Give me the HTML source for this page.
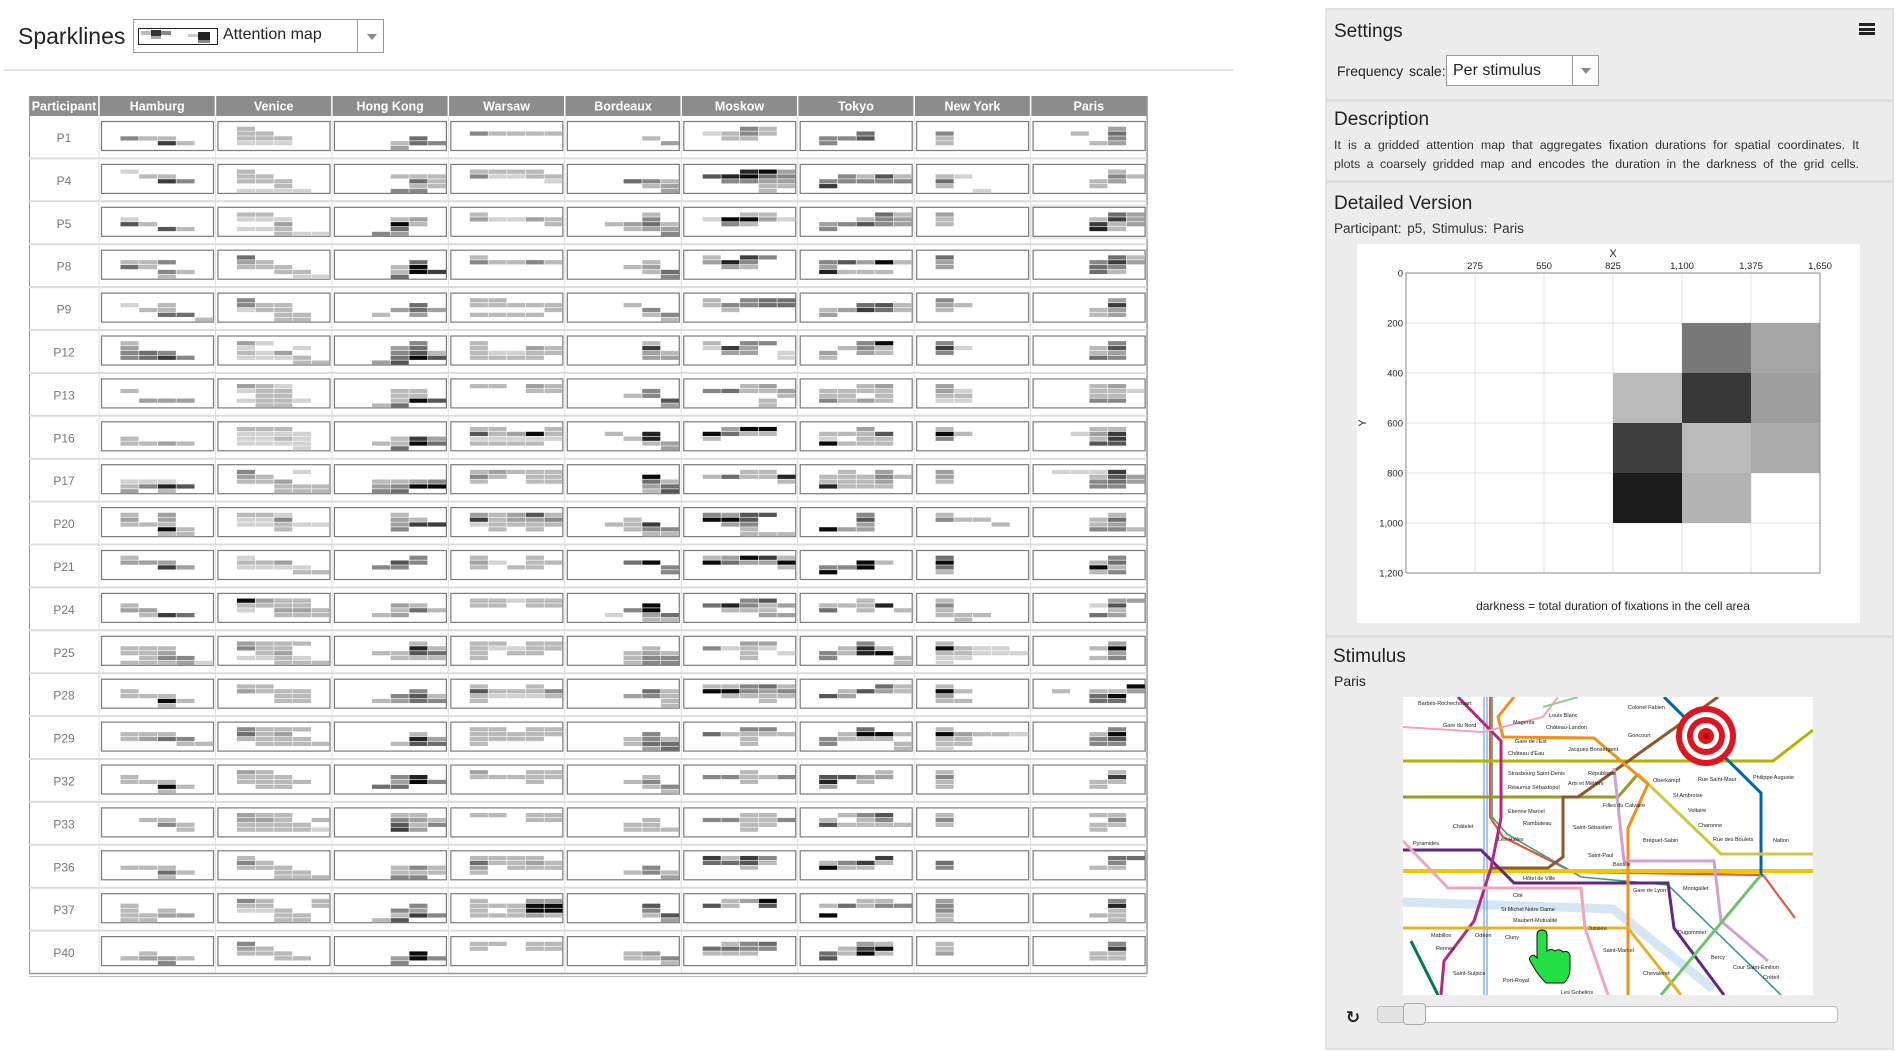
<!DOCTYPE html>
<html><head><meta charset="utf-8">
<style>
*{margin:0;padding:0;box-sizing:border-box}
body{width:1897px;height:1052px;background:#fff;font-family:"Liberation Sans","DejaVu Sans",sans-serif;position:relative;overflow:hidden;color:#222}
.abs{position:absolute}
#panel{left:1325px;top:8px;width:569px;height:1042px;background:#ececec;border:2px solid #e0e0e0}
.sep{position:absolute;left:1327px;width:565px;height:3px;background:#dedede}
.h{font-size:19px;color:#222}
</style></head><body>
<div class="abs" style="left:18px;top:23px;font-size:23px;">Sparklines</div>
<div class="abs" style="left:133px;top:19px;width:251px;height:34px;border:1px solid #999;background:#fff">
  <svg class="abs" style="left:4px;top:8px" width="80" height="17">
    <rect x="0.5" y="0.5" width="79" height="16" fill="#fff" stroke="#222"/>
    <rect x="3" y="3" width="10" height="4" fill="#bbb"/><rect x="13" y="2" width="10" height="6" fill="#333"/><rect x="23" y="3" width="10" height="4" fill="#888"/><rect x="13" y="8" width="10" height="3" fill="#aaa"/>
    <rect x="50" y="6" width="10" height="3" fill="#ccc"/><rect x="60" y="4" width="12" height="8" fill="#222"/><rect x="60" y="12" width="12" height="3" fill="#888"/>
  </svg>
  <span class="abs" style="left:89px;top:6px;font-size:16px">Attention map</span>
  <div class="abs" style="left:223px;top:0;width:1px;height:32px;background:#999"></div>
  <div class="abs" style="left:233px;top:14px;width:0;height:0;border-left:5px solid transparent;border-right:5px solid transparent;border-top:6px solid #888"></div>
</div>
<div class="abs" style="left:4px;top:69px;width:1229px;height:2px;background:#e2e2e2"></div>

<svg id="table" class="abs" style="left:0;top:0" width="1160" height="990"></svg>

<div id="panel" class="abs"></div>
<div class="abs h" style="left:1334px;top:21px">Settings</div>
<div class="abs" style="left:1859px;top:23px;width:16px;height:12px;border-top:3px solid #222;border-bottom:3px solid #222"><div style="margin-top:2px;height:3px;background:#222"></div></div>
<div class="abs" style="left:1337px;top:63px;font-size:14px;word-spacing:2px">Frequency scale:</div>
<div class="abs" style="left:1446px;top:55px;width:153px;height:31px;border:1px solid #999;background:#fff">
  <span class="abs" style="left:6px;top:6px;font-size:16px">Per stimulus</span>
  <div class="abs" style="left:125px;top:0;width:1px;height:29px;background:#999"></div>
  <div class="abs" style="left:134px;top:12px;border-left:5px solid transparent;border-right:5px solid transparent;border-top:6px solid #888"></div>
</div>
<div class="sep" style="top:99px"></div>
<div class="abs h" style="left:1334px;top:109px">Description</div>
<div class="abs" style="left:1334px;top:136px;width:525px;font-size:12.4px;line-height:19px;text-align:justify;text-align-last:justify;color:#333">
<div>It is a gridded attention map that aggregates fixation durations for spatial coordinates. It</div>
<div>plots a coarsely gridded map and encodes the duration in the darkness of the grid cells.</div></div>
<div class="sep" style="top:180px"></div>
<div class="abs h" style="left:1334px;top:193px">Detailed Version</div>
<div class="abs" style="left:1334px;top:221px;font-size:13.5px;word-spacing:2px;color:#333">Participant: p5, Stimulus: Paris</div>
<svg id="detail" class="abs" style="left:1357px;top:244px" width="503" height="379"></svg>
<div class="sep" style="top:635px"></div>
<div class="abs h" style="left:1333px;top:646px">Stimulus</div>
<div class="abs" style="left:1334px;top:673px;font-size:14px">Paris</div>

<svg class="abs" style="left:1403px;top:697px" width="410" height="298" viewBox="0 0 410 298" font-family="Liberation Sans, sans-serif" font-size="5.5" fill="none">
<rect width="410" height="298" fill="#fff"/>
<path d="M0,205 L210,212 L310,292" stroke="#d4e6f4" stroke-width="9"/>
<path d="M81,0 V298 M84,0 V298" stroke="#6aa2d8" stroke-width="1.2"/>
<path d="M87,0 V120 L100,140 L170,175 L360,178 L392,221" stroke="#e05a3a" stroke-width="2.2"/>
<path d="M89,0 V120 L104,137 L178,180 L265,188 L378,298" stroke="#3a9a8a" stroke-width="1.6"/>
<path d="M0,174 H410" stroke="#f2c500" stroke-width="4"/>
<path d="M0,64 H370 L410,33" stroke="#b8b000" stroke-width="3"/>
<path d="M0,100 H215 L235,77" stroke="#9a9a20" stroke-width="3"/>
<path d="M315,0 L175,100 H160 V160 L145,171 H88" stroke="#8b5a2b" stroke-width="3"/>
<path d="M261,0 L358,96 V174 L358,180" stroke="#0064b0" stroke-width="3"/>
<path d="M235,77 L318,157 H410" stroke="#cdc83f" stroke-width="3"/>
<path d="M0,153 H78 L111,186 H265 L271,231 L321,298" stroke="#662483" stroke-width="3"/>
<path d="M55,0 L98,44 V121 L88,171 L71,224 L41,264 L38,298" stroke="#b6287d" stroke-width="3"/>
<path d="M111,0 L95,20 L100,40 L191,41 L245,87 L225,131 V298" stroke="#f28e1c" stroke-width="3"/>
<path d="M211,71 L221,164 H311 L318,224 L365,264" stroke="#cfa0d0" stroke-width="3"/>
<path d="M358,178 L258,298" stroke="#6ec26e" stroke-width="3"/>
<path d="M0,231 H225 L278,298" stroke="#e3b32a" stroke-width="3"/>
<path d="M0,144 L45,191 H178 L182,231 L205,298" stroke="#f3a4ba" stroke-width="3"/>
<path d="M8,244 L35,298" stroke="#007852" stroke-width="3"/>
<path d="M0,30 L80,35 L140,20 L155,0" stroke="#f3a4ba" stroke-width="2"/>
<path d="M140,10 L175,0" stroke="#8fce8f" stroke-width="2"/>
<g fill="#222">
<text x="15" y="8">Barbès-Rochechouart</text><text x="40" y="30">Gare du Nord</text><text x="110" y="27">Magenta</text><text x="143" y="32">Château-Landon</text>
<text x="146" y="20">Louis Blanc</text><text x="225" y="12">Colonel Fabien</text><text x="225" y="40">Goncourt</text><text x="112" y="46">Gare de l'Est</text>
<text x="105" y="58">Château d'Eau</text><text x="165" y="54">Jacques Bonsergent</text><text x="105" y="78">Strasbourg Saint-Denis</text><text x="185" y="78">République</text>
<text x="250" y="85">Oberkampf</text><text x="295" y="84">Rue Saint-Maur</text><text x="350" y="82">Philippe Auguste</text><text x="270" y="100">St Ambroise</text>
<text x="105" y="92">Réaumur Sébastopol</text><text x="165" y="88">Arts et Métiers</text><text x="200" y="110">Filles du Calvaire</text><text x="285" y="115">Voltaire</text>
<text x="105" y="116">Étienne Marcel</text><text x="120" y="128">Rambuteau</text><text x="170" y="132">Saint-Sébastien</text><text x="295" y="130">Charonne</text>
<text x="50" y="131">Châtelet</text><text x="95" y="144">Les Halles</text><text x="240" y="145">Bréguet-Sabin</text><text x="310" y="144">Rue des Boulets</text>
<text x="10" y="148">Pyramides</text><text x="370" y="145">Nation</text><text x="185" y="160">Saint-Paul</text><text x="210" y="169">Bastille</text>
<text x="120" y="183">Hôtel de Ville</text><text x="230" y="195">Gare de Lyon</text><text x="280" y="193">Montgallet</text><text x="110" y="200">Cité</text>
<text x="98" y="214">St Michel Notre Dame</text><text x="110" y="225">Maubert-Mutualité</text><text x="185" y="233">Jussieu</text><text x="275" y="237">Dugommier</text>
<text x="28" y="240">Mabillon</text><text x="72" y="240">Odéon</text><text x="102" y="242">Cluny</text><text x="200" y="255">Saint-Marcel</text>
<text x="308" y="262">Bercy</text><text x="330" y="272">Cour Saint-Émilion</text><text x="240" y="278">Chevaleret</text><text x="100" y="285">Port-Royal</text>
<text x="158" y="297">Les Gobelins</text><text x="360" y="282">Créteil</text><text x="33" y="253">Rennes</text><text x="50" y="278">Saint-Sulpice</text>
</g>
<g>
<circle cx="303" cy="39" r="30" fill="#e0141e"/><circle cx="303" cy="39" r="24" fill="#fff"/><circle cx="303" cy="39" r="19" fill="#e0141e"/><circle cx="303" cy="39" r="13" fill="#fff"/><circle cx="303" cy="39" r="8" fill="#e0141e"/><circle cx="303" cy="39" r="3" fill="#b00"/>
</g>
<path d="M134,238 q0,-5 5,-5 q5,0 5,5 v16 q4,-3 8,0 q4,-3 8,1 q5,-2 7,3 v14 q0,8 -6,14 h-18 q-6,-6 -10,-12 l-6,-10 q-2,-5 4,-6 l3,3 z" fill="#22e044" stroke="#111" stroke-width="1"/>
</svg>
<div class="abs" style="left:1344px;top:1009px;width:18px;height:18px;font-size:17px;font-weight:bold;line-height:18px;text-align:center;color:#222">&#x21BB;</div>
<div class="abs" style="left:1377px;top:1006px;width:461px;height:17px;border:1px solid #bbb;border-radius:4px;background:#fff"></div>
<div class="abs" style="left:1378px;top:1007px;width:26px;height:15px;background:#e2e2e2;border-radius:3px 0 0 3px"></div>
<div class="abs" style="left:1403px;top:1003px;width:23px;height:22px;border:1px solid #aaa;border-radius:4px;background:#ececec"></div>

<script>
const stimuli = ["Hamburg","Venice","Hong Kong","Warsaw","Bordeaux","Moskow","Tokyo","New York","Paris"];
const participants = ["P1","P4","P5","P8","P9","P12","P13","P16","P17","P20","P21","P24","P25","P28","P29","P32","P33","P36","P37","P40"];
// each sparkline: 6 rows x 6 cols darkness levels 0-9
const spark_P1 = ["000000|000000|000000|042200|000720|000000","000000|020000|022000|022200|011100|000000","000000|000000|000000|000050|000254|000300","000000|000000|042222|000000|000000|000000","000000|000000|000000|000020|000003|000000","000000|000420|012420|002200|000000|000000","000000|000000|000500|044600|040000|000000","000000|000000|040000|020000|020000|000000","000000|000030|002050|000040|000230|000000"];
const spark_P4 = ["000000|010000|002200|000740|000000|000000","000000|020000|022000|022200|000200|011110","000000|000000|000222|000052|000022|000440","000000|022220|041122|000001|000000|000000","000000|000000|000000|000542|000023|000003","000000|000893|068954|004433|000022|000020","000000|000000|004262|044444|070000|000000","000000|000000|021000|050000|020000|000100","000000|000020|000042|000230|000200|000000"];
const spark_P5 = ["000000|000000|010000|062000|000620|000000","000000|022000|011100|000300|011200|000211","000000|000000|000230|000920|000500|004300","000000|020000|031132|000002|000000|000000","000000|000020|000040|002352|000233|000004","000000|000220|019931|004200|000000|000000","000000|000052|000243|034643|040000|000000","000000|030000|020000|020000|000000|000000","000000|000053|000273|000723|000820|000000"];
const spark_P8 = ["000000|000000|022400|052000|000420|000200","000000|050000|032000|022200|000220|000011","000000|000000|000050|000290|000297|000500","000000|020000|042242|000000|000000|000000","000000|000000|000020|000230|000025|000004","000000|020740|038400|003200|000000|000000","000000|000000|046392|030000|082220|000000","000000|050000|030000|030000|000000|000000","000000|000052|000473|000540|000520|000000"];
const spark_P9 = ["000000|000000|010200|002200|000550|000002","000000|040000|042200|012200|000220|000220","000000|000000|000050|000353|002030|000000","000000|022000|022222|000002|022220|000000","000000|000000|000200|000040|000024|000002","000000|020455|024455|002000|000000|000000","000000|000000|000562|023752|030000|000000","000000|040000|032000|020000|000000|000000","000000|000030|000070|000230|000230|000000"];
const spark_P12 = ["000000|020000|030000|045400|045740|000000","000000|031000|010010|021300|011120|000022","000000|000040|000350|000462|000596|003600","000000|020000|020032|021122|022220|000000","000000|000020|000070|000032|000033|000000","000000|020440|017300|003301|000001|000000","000000|000490|002420|030320|020000|000000","000000|040000|071000|040000|000000|000000","000000|000040|000260|000230|000540|000000"];
const spark_P13 = ["000000|000000|020000|000000|003330|000000","000000|032100|012200|002200|012210|002200","000000|000000|000220|000220|000296|002500","000000|022032|000022|000000|000000|000000","000000|000000|000040|000240|000006|000003","000000|000230|045223|000002|000020|000020","000000|000230|022220|022020|042320|000000","000000|030000|031000|022000|011000|000000","000000|000230|000221|000220|000440|000000"];
const spark_P16 = ["000000|000000|000000|020000|022320|000000","000000|022200|011110|011210|011110|000010","000000|000000|000000|000273|002295|000500","000000|022002|062392|011111|022220|000000","000000|000000|002080|000280|000023|000003","000000|003990|095220|020000|000000|000000","000000|000300|022260|010220|092220|000000","000000|020000|092000|040000|000000|000000","000000|000220|001370|000270|000660|000000"];
const spark_P17 = ["000000|000000|000000|011100|024860|030200","000000|040010|032000|022300|000222|000222","000000|000000|000000|002234|003499|004500","000000|023222|042022|020022|000000|000000","000000|000000|000090|000052|000035|000026","000000|000220|025228|000002|000000|000000","000000|002030|022242|022230|082220|000000","000000|030000|030000|020000|000000|000000","000000|011170|000263|000453|000440|000000"];
const spark_P20 = ["000000|020300|030300|022200|000920|000220","000000|022100|011400|011211|000200|000000","000000|000200|000320|000377|000400|000000","000000|032362|072334|012222|002020|000000","000000|000000|000200|002270|000244|000022","000000|043660|099600|003400|000200|000222","000000|000400|000600|000300|093300|000000","000000|020000|042200|000020|000000|000000","000000|000020|000250|000230|000442|000000"];
const spark_P21 = ["000000|020000|033300|000730|000000|000000","000000|010000|022300|011110|000022|000000","000000|000040|000640|004400|000000|000000","000000|020020|031022|020220|000000|000000","000000|000000|000590|000004|000004|000000","000000|023972|095339|000002|000000|000000","000000|000000|000920|044900|090000|000000","000000|050000|090000|050000|020000|000000","000000|000040|000250|000920|000240|000000"];
const spark_P24 = ["000000|000000|020000|033000|002750|000000","000000|093220|022220|010332|000222|000000","000000|000000|000320|000252|002300|000000","000000|022122|022022|000000|000000|000000","000000|000000|000090|000490|001035|000022","000000|000460|058423|002220|000033|000000","000000|000200|022280|050202|000000|000000","000000|020000|040000|020000|022200|002000","000000|000033|000160|000020|000530|000000"];
const spark_P25 = ["000000|000000|022200|022300|002440|022231","000000|032220|042200|002300|011210|000222","000000|000020|000082|002265|000222|000000","000000|022022|021122|020220|020000|000000","000000|000000|000020|000232|000244|000244","000000|000330|041210|000201|000200|000000","000000|000400|002820|042890|040002|000002","000000|020000|092110|022111|011000|010000","000000|000030|000290|000030|000240|000000"];
const spark_P28 = ["000000|000000|020000|022200|000920|000200","000000|022000|032220|000220|000220|000000","000000|000000|000040|000462|002354|000000","000000|020020|062224|021112|020000|000000","000000|000000|000052|000342|000002|000002","000000|022452|099434|002222|000020|000000","000000|000052|002632|063000|000000|000000","000000|020000|092000|030000|022000|000000","000000|000009|020223|000590|000550|000000"];
const spark_P29 = ["000000|000000|022200|023540|000022|000000","000000|042220|052300|022220|002222|000000","000000|000000|000020|000083|000265|000000","000000|022022|022222|022220|020000|000000","000000|000000|000040|000242|000255|000035","000000|000440|052222|000200|000200|000000","000000|000500|002992|042220|040002|000002","000000|020000|093221|022000|022000|010000","000000|000040|000290|000460|000440|000000"];
const spark_P32 = ["000000|000000|020000|022200|000920|000200","000000|032000|022200|022220|002200|000000","000000|000000|000480|000394|005500|000000","000000|030022|022222|000020|000000|000000","000000|000000|000020|000240|000024|000002","000000|000200|044224|000200|000000|000000","000000|000020|066330|080200|030000|000000","000000|020000|040000|020000|020000|000000","000000|000020|000070|000220|000200|000000"];
const spark_P33 = ["000000|000000|002200|000420|000020|000000","000000|032200|033202|022220|022221|000000","000000|000220|000432|000624|000730|000000","000000|022022|000022|000000|000000|000000","000000|000000|000020|000220|000222|000000","000000|000220|044224|000220|000200|000000","000000|002460|020240|062222|000000|000000","000000|020000|040000|020000|000000|000000","000000|000220|000040|000220|000200|000000"];
const spark_P36 = ["000000|000000|000000|022200|000520|000200","000000|020000|042000|022200|000220|000222","000000|000000|000000|000242|000222|000440","000000|022220|052232|030222|020000|000000","000000|000000|000000|000040|000242|000003","000000|072740|055620|000200|000000|000000","000000|000070|024720|092200|000000|000000","000000|000000|050000|040000|000000|000000","000000|000055|000040|000220|000000|000000"];
const spark_P37 = ["000000|000000|020000|020200|022330|022000","000000|042002|022002|011200|000220|000220","000000|000000|000040|000430|000274|002600","000000|020033|022299|020299|022232|000000","000000|000000|000060|000040|000026|000003","000000|002390|062060|000000|000000|000000","000000|000220|025244|000000|090000|000000","000000|030000|040000|040000|020000|020000","000000|000040|000080|000020|000220|000020"];
const spark_P40 = ["000000|000000|000000|002000|023320|000400","000000|040000|032000|022200|000220|000000","000000|000000|000000|000090|000394|000400","000000|022022|020022|000000|000000|000000","000000|000000|000000|000230|000224|000002","000000|002450|055440|022200|000000|000000","000000|000320|002790|052920|060000|000000","000000|020000|020000|030000|000000|000000","000000|000040|000070|000220|000220|000000"];
const sparkData = [spark_P1,spark_P4,spark_P5,spark_P8,spark_P9,spark_P12,spark_P13,spark_P16,spark_P17,spark_P20,spark_P21,spark_P24,spark_P25,spark_P28,spark_P29,spark_P32,spark_P33,spark_P36,spark_P37,spark_P40];

// detailed chart (participant p5, Paris): darkness 0..1 per 275x200 cell
const detailXTicks = [275,550,825,1100,1375,1650];
const detailYTicks = [0,200,400,600,800,1000,1200];
const detailRow0 = [0,0,0,0,0,0];
const detailRow1 = [0,0,0,0,0.53,0.35];
const detailRow2 = [0,0,0,0.27,0.78,0.38];
const detailRow3 = [0,0,0,0.76,0.27,0.33];
const detailRow4 = [0,0,0,0.89,0.30,0];
const detailRow5 = [0,0,0,0,0,0];
const detailRows = [detailRow0,detailRow1,detailRow2,detailRow3,detailRow4,detailRow5];

const NS = "http://www.w3.org/2000/svg";
function mk(parent, tag, attrs, text){const e=document.createElementNS(NS,tag);for(const k in attrs)e.setAttribute(k,attrs[k]);if(text!==undefined)e.textContent=text;parent.appendChild(e);return e;}
function levelGray(d){const g=Math.round(235-d*25);return "rgb("+g+","+g+","+g+")";}

// ---- table ----
const T = document.getElementById("table");
const tL=29, partW=70, colW=116.45, hTop=96, hH=20, r0=115.5, rowH=42.9;
const tR = tL+partW+colW*stimuli.length;
const hdr = mk(T,"rect",{x:tL,y:hTop,width:tR-tL,height:hH,fill:"#8c8c8c"});


const heads = ["Participant"].concat(stimuli);
heads.forEach((h,i)=>{
  const x0 = i===0?tL:tL+partW+colW*(i-1), w = i===0?partW:colW;
  const t = mk(T,"text",{x:x0+w/2,y:hTop+14.5,"text-anchor":"middle","font-size":"12.5","font-weight":"bold",fill:"#fff","font-family":"Liberation Sans, sans-serif"},h);
  
  
  if(i>0) mk(T,"line",{x1:x0,x2:x0,y1:hTop,y2:hTop+hH,stroke:"#fff","stroke-width":1.5});
});
const nRows = participants.length;
const tBottom = r0+rowH*nRows;
for(let j=0;j<stimuli.length;j++){
  const x = tL+partW+colW*j;
  mk(T,"line",{x1:x,x2:x,y1:r0,y2:tBottom,stroke:"#dedede","stroke-width":1});
}
mk(T,"line",{x1:tL+0.5,x2:tL+0.5,y1:hTop,y2:tBottom,stroke:"#999","stroke-width":1});
mk(T,"line",{x1:tR,x2:tR,y1:hTop,y2:tBottom,stroke:"#999","stroke-width":1.5});
participants.forEach((p,i)=>{
  const y = r0+rowH*i;
  mk(T,"line",{x1:tL,x2:tR,y1:y+rowH,y2:y+rowH,stroke:i===nRows-1?"#999":"#dcdcdc","stroke-width":i===nRows-1?1.5:2});
  const lab = mk(T,"text",{x:tL+partW/2,y:y+rowH/2+5,"text-anchor":"middle","font-size":"12",fill:"#777","font-family":"Liberation Sans, sans-serif"},p);
  
  
  stimuli.forEach((s,j)=>{
    const bx = tL+partW+colW*j+2.5, by = y+6, bw=112, bh=29;
    const g = mk(T,"g",{});
    
    
    const sel = (p==="P5" && s==="Paris");
    if(sel){ mk(T,"rect",{x:bx-3,y:by-3,width:bw+6,height:bh+6,fill:"#ddd",opacity:0.6}); T.appendChild(g); }
    mk(g,"rect",{x:bx,y:by,width:bw,height:bh,fill:"#fff",stroke:"#7a7a7a","stroke-width":1.2});
    const rows = sparkData[i][j].split("|");
    const cw = bw/6, ch = bh/6;
    rows.forEach((r,ri)=>{
      for(let ci=0;ci<6;ci++){
        const d = +r[ci];
        if(d>0){
          const c = mk(g,"rect",{x:bx+ci*cw+0.3,y:by+ri*ch+0.3,width:cw-0.6,height:ch-0.6,fill:levelGray(d)});
          
          
        }
      }
    });
  });
});
mk(T,"line",{x1:tL,x2:tR,y1:tBottom+3,y2:tBottom+3,stroke:"#bbb","stroke-width":1});

// ---- detailed chart ----
const D = document.getElementById("detail");
mk(D,"rect",{x:0,y:0,width:503,height:379,fill:"#fff"});
const pL=49, pT=29, pW=414, pH=300;
const xMax=1650, yMax=1200;
const xs = v=>pL+v/xMax*pW, ys = v=>pT+v/yMax*pH;
detailXTicks.forEach(v=>{
  mk(D,"line",{x1:xs(v),x2:xs(v),y1:pT,y2:pT+pH,stroke:"#e2e2e2"});
  const t=mk(D,"text",{x:xs(v),y:pT-4,"text-anchor":"middle","font-size":"9.5",fill:"#222","font-family":"Liberation Sans, sans-serif"},v.toLocaleString("en-US"));
  
  
});
detailYTicks.forEach(v=>{
  mk(D,"line",{x1:pL,x2:pL+pW,y1:ys(v),y2:ys(v),stroke:"#e2e2e2"});
  const t=mk(D,"text",{x:pL-3,y:ys(v)+3.5,"text-anchor":"end","font-size":"9.5",fill:"#222","font-family":"Liberation Sans, sans-serif"},v.toLocaleString("en-US"));
  
  
});
detailRows.forEach((row,ri)=>{
  row.forEach((v,ci)=>{
    if(v>0){
      const g=Math.round(255*(1-v));
      const c=mk(D,"rect",{x:xs(ci*275),y:ys(ri*200),width:xs(275)-xs(0),height:ys(200)-ys(0),fill:"rgb("+g+","+g+","+g+")"});
      
      
    }
  });
});
mk(D,"rect",{x:pL,y:pT,width:pW,height:pH,fill:"none",stroke:"#888","stroke-width":1});
const xt=mk(D,"text",{x:pL+pW/2,y:pT-16,"text-anchor":"middle","font-size":"11",fill:"#222","font-family":"Liberation Sans, sans-serif"},"X");


const yt=mk(D,"text",{x:9,y:pT+pH/2,"text-anchor":"middle","font-size":"11",fill:"#222","font-family":"Liberation Sans, sans-serif",transform:"rotate(-90 9 "+(pT+pH/2)+")"},"Y");


const cap=mk(D,"text",{x:pL+pW/2,y:366,"text-anchor":"middle","font-size":"12",fill:"#222","font-family":"Liberation Sans, sans-serif"},"darkness = total duration of fixations in the cell area");


</script>
</body></html>
